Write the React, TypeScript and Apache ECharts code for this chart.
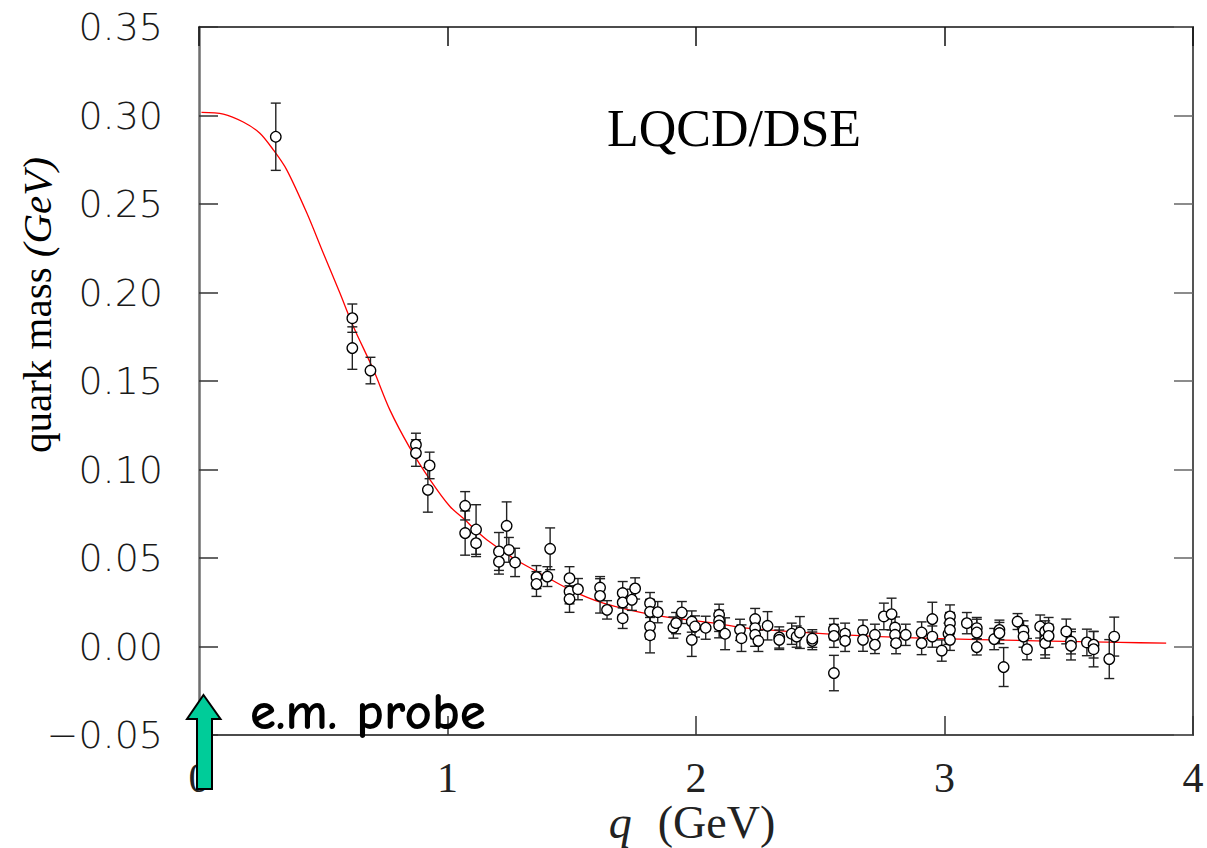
import React, { useEffect, useRef } from "react";
import * as echarts from "echarts";

// Lattice data points: momentum q (GeV), quark mass (GeV), error (GeV)
const qVals = [
  0.309, 0.617, 0.617, 0.690, 0.873, 0.873, 0.928, 0.921, 1.071, 1.071,
  1.115, 1.115, 1.207, 1.207, 1.238, 1.247, 1.272, 1.358, 1.358, 1.402,
  1.413, 1.491, 1.491, 1.491, 1.525, 1.614, 1.614, 1.642, 1.705, 1.705,
  1.705, 1.742, 1.755, 1.815, 1.815, 1.815, 1.815, 1.846, 1.909, 1.920,
  1.943, 1.983, 1.983, 1.996, 2.039, 2.093, 2.093, 2.093, 2.117, 2.177,
  2.183, 2.238, 2.238, 2.238, 2.251, 2.288, 2.335, 2.335, 2.385, 2.405,
  2.418, 2.468, 2.468, 2.555, 2.555, 2.555, 2.600, 2.600, 2.672, 2.672,
  2.720, 2.720, 2.756, 2.787, 2.801, 2.801, 2.805, 2.844, 2.908, 2.908,
  2.951, 2.951, 2.989, 3.016, 3.022, 3.022, 3.022, 3.022, 3.090, 3.130,
  3.130, 3.130, 3.200, 3.221, 3.221, 3.238, 3.294, 3.318, 3.318, 3.332,
  3.385, 3.405, 3.405, 3.405, 3.419, 3.419, 3.490, 3.509, 3.509, 3.573,
  3.600, 3.600, 3.663, 3.683,
];
const mVals = [
  0.2880, 0.1855, 0.1686, 0.1559, 0.1140, 0.1093, 0.1023, 0.0885, 0.0795, 0.0641,
  0.0661, 0.0584, 0.0537, 0.0479, 0.0682, 0.0546, 0.0475, 0.0392, 0.0353, 0.0395,
  0.0552, 0.0386, 0.0311, 0.0268, 0.0324, 0.0333, 0.0286, 0.0207, 0.0302, 0.0249,
  0.0160, 0.0264, 0.0328, 0.0245, 0.0196, 0.0113, 0.0064, 0.0194, 0.0107, 0.0132,
  0.0192, 0.0141, 0.0038, 0.0113, 0.0106, 0.0179, 0.0145, 0.0119, 0.0072, 0.0094,
  0.0047, 0.0155, 0.0104, 0.0066, 0.0032, 0.0117, 0.0051, 0.0038, 0.0072, 0.0056,
  0.0079, 0.0032, 0.0045, 0.0098, 0.0060, -0.0150, 0.0072, 0.0032, 0.0090, 0.0038,
  0.0066, 0.0010, 0.0170, 0.0183, 0.0107, 0.0066, 0.0019, 0.0066, 0.0079, 0.0019,
  0.0155, 0.0056, -0.0023, 0.0072, 0.0170, 0.0132, 0.0094, 0.0038, 0.0132, 0.0104,
  0.0079, -0.0003, 0.0042, 0.0094, 0.0076, -0.0116, 0.0141, 0.0090, 0.0056, -0.0015,
  0.0113, 0.0085, 0.0038, 0.0019, 0.0104, 0.0060, 0.0085, 0.0028, 0.0004, 0.0023,
  0.0010, -0.0015, -0.0071, 0.0056,
];
const errVals = [
  0.0190, 0.0080, 0.0120, 0.0075, 0.0065, 0.0075, 0.0075, 0.0126, 0.0080, 0.0125,
  0.0140, 0.0076, 0.0107, 0.0070, 0.0135, 0.0070, 0.0080, 0.0065, 0.0070, 0.0056,
  0.0118, 0.0065, 0.0070, 0.0075, 0.0060, 0.0062, 0.0097, 0.0052, 0.0065, 0.0070,
  0.0058, 0.0060, 0.0060, 0.0060, 0.0070, 0.0070, 0.0100, 0.0060, 0.0060, 0.0060,
  0.0062, 0.0060, 0.0094, 0.0060, 0.0065, 0.0060, 0.0060, 0.0070, 0.0090, 0.0060,
  0.0075, 0.0060, 0.0060, 0.0065, 0.0060, 0.0080, 0.0060, 0.0055, 0.0060, 0.0060,
  0.0090, 0.0050, 0.0050, 0.0060, 0.0065, 0.0100, 0.0060, 0.0060, 0.0060, 0.0065,
  0.0060, 0.0050, 0.0075, 0.0090, 0.0060, 0.0060, 0.0060, 0.0060, 0.0060, 0.0065,
  0.0095, 0.0060, 0.0060, 0.0060, 0.0065, 0.0060, 0.0060, 0.0060, 0.0060, 0.0060,
  0.0075, 0.0045, 0.0060, 0.0055, 0.0060, 0.0110, 0.0045, 0.0055, 0.0060, 0.0060,
  0.0065, 0.0060, 0.0085, 0.0085, 0.0060, 0.0065, 0.0070, 0.0070, 0.0080, 0.0075,
  0.0075, 0.0100, 0.0110, 0.0110,
];

// DSE curve
const curveQ = [
  0.010, 0.098, 0.178, 0.245, 0.299, 0.353, 0.434, 0.500, 0.567, 0.621,
  0.702, 0.768, 0.849, 0.930, 1.010, 1.070, 1.104, 1.158, 1.265, 1.359,
  1.494, 1.627, 1.828, 2.097, 2.204, 2.539, 2.904, 3.372, 3.706, 3.892,
];
const curveM = [
  0.3018, 0.3008, 0.2963, 0.2900, 0.2806, 0.2693, 0.2449, 0.2223, 0.1997, 0.1808,
  0.1563, 0.1337, 0.1121, 0.0942, 0.0791, 0.0716, 0.0669, 0.0603, 0.0499, 0.0424,
  0.0320, 0.0245, 0.0179, 0.0127, 0.0104, 0.0070, 0.0047, 0.0032, 0.0023, 0.0019,
];

const yTicks = ["0.35", "0.30", "0.25", "0.20", "0.15", "0.10", "0.05", "0.00", "\u22120.05"];

export default function App() {
  const ref = useRef<HTMLDivElement>(null);

  useEffect(() => {
    if (!ref.current) return;
    const chart = echarts.init(ref.current, null, { renderer: "svg" });

    const points = qVals.map((q, i) => [q, mVals[i], errVals[i]]);
    const curve = curveQ.map((q, i) => [q, curveM[i]]);

    const yLabel = (v: number) => {
      const idx = Math.round((0.35 - v) / 0.05);
      return yTicks[idx] ?? "";
    };

    const option: any = {
      animation: false,
      backgroundColor: "#ffffff",
      grid: { left: 199, right: 14, top: 27, bottom: 113, containLabel: false },
      xAxis: [
        {
          type: "value",
          min: 0,
          max: 4,
          interval: 1,
          position: "bottom",
          axisLine: { show: true, onZero: false, lineStyle: { color: "#111", width: 1.5 } },
          axisTick: { show: true, inside: true, length: 19, lineStyle: { color: "#333", width: 1.5 } },
          axisLabel: {
            show: true,
            margin: 22,
            color: "#222",
            fontFamily: '"Liberation Serif", serif',
            fontSize: 42,
            formatter: (v: number) => String(v),
          },
          splitLine: { show: false },
        },
        {
          type: "value",
          min: 0,
          max: 4,
          interval: 1,
          position: "top",
          axisLine: { show: true, onZero: false, lineStyle: { color: "#111", width: 1.5 } },
          axisTick: { show: true, inside: true, length: 19, lineStyle: { color: "#111", width: 1.5 } },
          axisLabel: { show: false },
          splitLine: { show: false },
        },
      ],
      yAxis: [
        {
          type: "value",
          min: -0.05,
          max: 0.35,
          interval: 0.05,
          position: "left",
          axisLine: { show: true, onZero: false, lineStyle: { color: "#6e6e6e", width: 2.5 } },
          axisTick: { show: true, inside: true, length: 19, lineStyle: { color: "#333", width: 1.5 } },
          axisLabel: {
            show: true,
            margin: 36,
            color: "#1a1a1a",
            fontFamily: '"DejaVu Sans", sans-serif',
            fontWeight: 200,
            fontSize: 38,
            formatter: yLabel,
          },
          splitLine: { show: false },
        },
        {
          type: "value",
          min: -0.05,
          max: 0.35,
          interval: 0.05,
          position: "right",
          axisLine: { show: true, onZero: false, lineStyle: { color: "#555", width: 2 } },
          axisTick: { show: true, inside: true, length: 19, lineStyle: { color: "#666", width: 1.5 } },
          axisLabel: { show: false },
          splitLine: { show: false },
        },
      ],
      series: [
        {
          type: "line",
          data: curve,
          smooth: 0.3,
          showSymbol: false,
          symbol: "none",
          lineStyle: { color: "#ff0000", width: 1.3 },
          z: 3,
        },
        {
          type: "custom",
          data: points,
          encode: { x: 0, y: 1 },
          renderItem: (params: any, api: any) => {
            const x = api.value(0);
            const y = api.value(1);
            const e = api.value(2);
            const top = api.coord([x, y + e]);
            const bot = api.coord([x, y - e]);
            const hw = 5;
            const st = { stroke: "#222", lineWidth: 1.4 };
            return {
              type: "group",
              children: [
                { type: "line", shape: { x1: top[0], y1: top[1], x2: bot[0], y2: bot[1] }, style: st },
                { type: "line", shape: { x1: top[0] - hw, y1: top[1], x2: top[0] + hw, y2: top[1] }, style: st },
                { type: "line", shape: { x1: bot[0] - hw, y1: bot[1], x2: bot[0] + hw, y2: bot[1] }, style: st },
              ],
            };
          },
          z: 4,
        },
        {
          type: "scatter",
          data: points.map((p) => [p[0], p[1]]),
          symbol: "circle",
          symbolSize: 10.5,
          itemStyle: { color: "#ffffff", borderColor: "#000000", borderWidth: 1.3, opacity: 1 },
          z: 5,
        },
      ],
      graphic: [
        {
          type: "text",
          x: 734,
          y: 128,
          z: 100,
          style: {
            text: "LQCD/DSE",
            font: '52px "Liberation Serif", serif',
            fill: "#000",
            align: "center",
            verticalAlign: "middle",
            textAlign: "center",
            textVerticalAlign: "middle",
          },
        },
        {
          type: "text",
          x: 37,
          y: 305,
          rotation: Math.PI / 2,
          z: 100,
          style: {
            text: "{a|quark mass }{b|(GeV)}",
            fill: "#000",
            align: "center",
            verticalAlign: "middle",
            textAlign: "center",
            textVerticalAlign: "middle",
            rich: {
              a: { font: '41px "Liberation Serif", serif', fill: "#000" },
              b: { font: 'italic 41px "Liberation Serif", serif', fill: "#000" },
            },
          },
        },
        {
          type: "text",
          x: 692,
          y: 822,
          z: 100,
          style: {
            text: "{q|q}{g|(GeV)}",
            fill: "#222",
            align: "center",
            verticalAlign: "middle",
            textAlign: "center",
            textVerticalAlign: "middle",
            rich: {
              q: { font: 'italic 46px "Liberation Serif", serif', fill: "#222", padding: [0, 26, 0, 0] },
              g: { font: '46px "Liberation Serif", serif', fill: "#222" },
            },
          },
        },
        {
          type: "text",
          x: 250,
          y: 711,
          z: 100,
          style: {
            text: "e.m. probe",
            font: '600 53px "Comic Sans MS", "Comic Neue", "Noto Sans", sans-serif',
            fill: "#000",
            align: "left",
            verticalAlign: "middle",
            textAlign: "left",
            textVerticalAlign: "middle",
          },
        },
        {
          type: "polygon",
          z: 100,
          shape: {
            points: [
              [203.5, 695],
              [220.5, 719],
              [212, 719],
              [212, 789],
              [197, 789],
              [197, 719],
              [187, 719],
            ],
          },
          style: { fill: "#00cc99", stroke: "#000", lineWidth: 2 },
        },
      ],
    };

    chart.setOption(option);
    return () => chart.dispose();
  }, []);

  return (
    <div
      ref={ref}
      style={{ position: "fixed", left: 0, top: 0, width: 1207, height: 848, background: "#fff" }}
    />
  );
}
